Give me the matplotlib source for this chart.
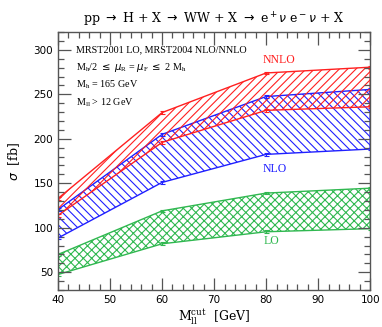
import matplotlib
matplotlib.use("Agg")
import matplotlib.pyplot as plt
from matplotlib.ticker import MultipleLocator

# cut on dilepton invariant mass [GeV]
mll_cut = [40, 60, 80, 100]

# cross sections [fb], band edges from scale variation
lo_low = [47.5, 82, 95.5, 99]
lo_high = [70, 119, 139, 144.5]
nlo_low = [88.5, 151, 182.5, 188.5]
nlo_high = [120.5, 205, 247.5, 255.5]
nnlo_low = [114, 196, 232, 236]
nnlo_high = [133, 229.5, 274, 280.5]

# small MC errors on points
err = [1.5, 1.5, 1.5, 1.5]

RED = "#ff2020"
BLUE = "#2020ff"
GREEN = "#30b850"


def band(ax, lo, hi, color, hatch):
    ax.fill_between(mll_cut, lo, hi, facecolor="none", edgecolor=color,
                    hatch=hatch, linewidth=1.0)
    for y in (lo, hi):
        ax.errorbar(mll_cut, y, yerr=err, fmt="none", ecolor=color,
                    elinewidth=0.8, capsize=1.8, capthick=0.8)


def main():
    plt.rcParams["hatch.linewidth"] = 0.8
    fig = plt.figure(figsize=(3.82, 3.27), dpi=100)
    ax = fig.add_axes([0.152, 0.113, 0.817, 0.789])

    band(ax, lo_low, lo_high, GREEN, "xxxx")
    band(ax, nlo_low, nlo_high, BLUE, "\\\\\\\\")
    band(ax, nnlo_low, nnlo_high, RED, "////")

    ax.set_xlim(40, 100)
    ax.set_ylim(30, 320)
    ax.xaxis.set_major_locator(MultipleLocator(10))
    ax.xaxis.set_minor_locator(MultipleLocator(2))
    ax.yaxis.set_major_locator(MultipleLocator(50))
    ax.yaxis.set_minor_locator(MultipleLocator(10))
    ax.tick_params(which="both", direction="in", top=True, right=True,
                   labelsize=7.5, color="#555555", width=0.9)
    ax.tick_params(which="major", length=9)
    ax.tick_params(which="minor", length=4.5)
    for s in ax.spines.values():
        s.set_color("#555555")
        s.set_linewidth(1.0)

    txt = dict(family="Liberation Serif", fontsize=7.3, color="black", va="center")
    ax.text(43.4, 300, "MRST2001 LO, MRST2004 NLO/NNLO", **txt)
    ax.text(43.4, 280.5, r"M$_\mathregular{h}$/2 $\leq$ $\mu_\mathregular{R}$ = $\mu_\mathregular{F}$ $\leq$ 2 M$_\mathregular{h}$",
            **txt)
    ax.text(43.4, 261, r"M$_\mathregular{h}$ = 165 GeV", **txt)
    ax.text(43.4, 241, r"M$_\mathregular{ll}$ > 12 GeV", **txt)

    lab = dict(family="Liberation Serif", fontsize=8.5, va="center")
    ax.text(79.3, 289, "NNLO", color=RED, **lab)
    ax.text(79.4, 166, "NLO", color=BLUE, **lab)
    ax.text(79.6, 85, "LO", color=GREEN, **lab)

    ax.set_title(r"pp $\rightarrow$ H + X $\rightarrow$ WW + X $\rightarrow$ e$^+\nu$ e$^-\nu$ + X",
                 family="DejaVu Serif", fontsize=9, pad=6)
    ax.set_ylabel(r"$\sigma$  [fb]", family="DejaVu Serif", fontsize=9, labelpad=8)
    ax.set_xlabel(r"M$_\mathregular{ll}^\mathregular{cut}$  [GeV]", family="DejaVu Serif",
                  fontsize=9, labelpad=2)

    fig.savefig("out.png", dpi=100)


if __name__ == "__main__":
    main()
